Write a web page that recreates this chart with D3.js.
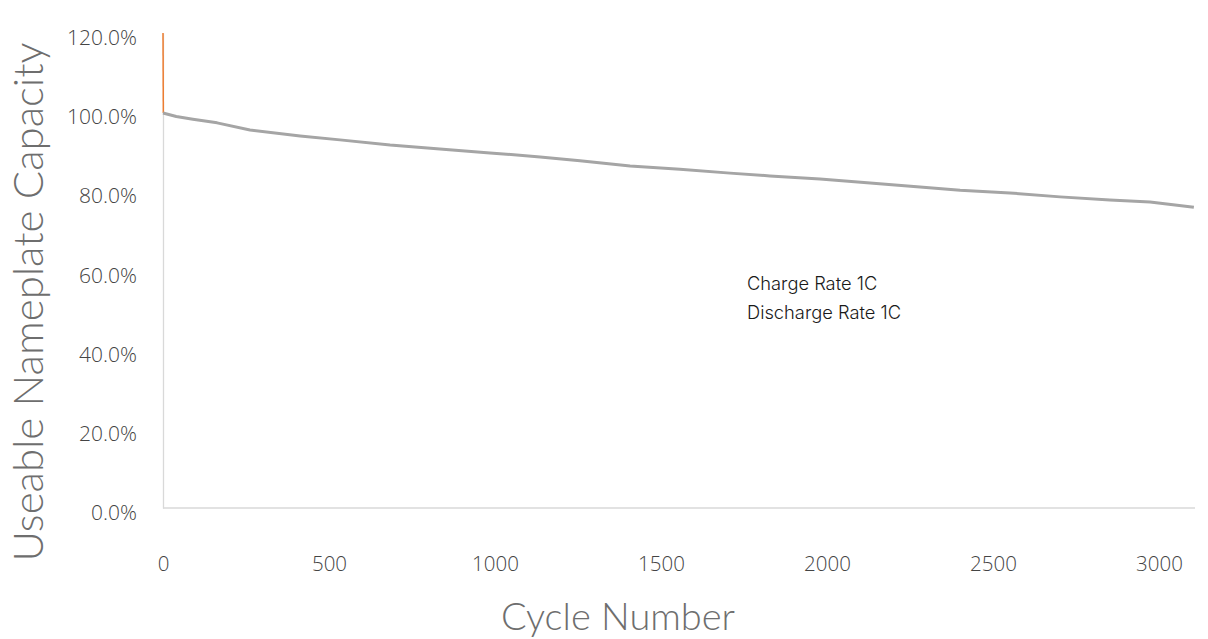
<!DOCTYPE html>
<html>
<head>
<meta charset="utf-8">
<script src="https://cdn.jsdelivr.net/npm/d3@7"></script>
<style>
  html, body { margin: 0; padding: 0; background: #fff; }
  svg { display: block; }
</style>
</head>
<body>
<svg id="chart" width="1208" height="639"></svg>
<script>
// ---- data ----
const cycles   = [0, 40, 90, 163, 262, 413, 533, 684, 834, 985, 1136, 1256, 1407, 1557, 1708, 1828, 1979, 2130, 2280, 2401, 2551, 2702, 2852, 2973, 3105];
const capacity = [99.8, 98.9, 98.2, 97.3, 95.5, 94.0, 93.0, 91.7, 90.7, 89.7, 88.7, 87.7, 86.4, 85.6, 84.6, 83.9, 83.1, 82.1, 81.1, 80.3, 79.6, 78.6, 77.8, 77.3, 76.0];
const initCycles   = [0, 1];
const initCapacity = [120.0, 99.8];
const xTicks = [0, 500, 1000, 1500, 2000, 2500, 3000];
const yTicks = [0, 20, 40, 60, 80, 100, 120];
const notes  = ["Charge Rate 1C", "Discharge Rate 1C"];

// ---- layout ----
const svg = d3.select("#chart");
const mLeft = 163, mRight = 1195, mTop = 33, mBottom = 508;

const x = d3.scaleLinear().domain([0, 3110]).range([mLeft, mLeft + 3110 * 0.332]);
const y = d3.scaleLinear().domain([0, 120]).range([mBottom, mTop]);

const tickFont = "'Open Sans', 'DejaVu Sans', sans-serif";
const titleFont = "Lato, 'Open Sans', sans-serif";

// y axis
const yAxis = svg.append("g")
  .attr("transform", `translate(${mLeft},0)`)
  .call(d3.axisLeft(y).tickValues(yTicks).tickSize(0).tickPadding(26)
        .tickFormat(d => d.toFixed(1) + "%"));
yAxis.select(".domain").attr("stroke", "#d9d9d9").attr("stroke-width", 1.3);
yAxis.selectAll("text").attr("fill", "#444").attr("dy", "0.55em")
  .style("font-family", tickFont).style("font-size", "21px").style("font-weight", 300);

// x axis
const xAxis = svg.append("g")
  .attr("transform", `translate(0,${mBottom})`)
  .call(d3.axisBottom(x).tickValues(xTicks).tickSize(0).tickPadding(48)
        .tickFormat(d3.format("d")));
xAxis.select(".domain").attr("stroke", "#d9d9d9").attr("stroke-width", 1.3)
  .attr("d", `M${mLeft},0H${mRight}`);
xAxis.selectAll("text").attr("fill", "#444")
  .style("font-family", tickFont).style("font-size", "20.5px").style("font-weight", 300);

// lines
const line = d3.line().x(d => x(d[0])).y(d => y(d[1]));
svg.append("path")
  .datum(initCycles.map((c, i) => [c, initCapacity[i]]))
  .attr("d", line).attr("fill", "none").attr("stroke", "#ed7d31").attr("stroke-width", 1.5);
svg.append("path")
  .datum(cycles.map((c, i) => [c, capacity[i]]))
  .attr("d", line).attr("fill", "none").attr("stroke", "#a5a5a5").attr("stroke-width", 3)
  .attr("stroke-linejoin", "round");

// annotation
svg.append("g").selectAll("text").data(notes).join("text")
  .attr("x", 747).attr("y", (d, i) => 290 + i * 29)
  .attr("fill", "#1a1a1a")
  .style("font-family", "Inter, Lato, sans-serif")
  .style("font-size", "18.3px").style("font-weight", 300)
  .text(d => d);

// axis titles
svg.append("text")
  .attr("transform", `translate(43,302) rotate(-90)`)
  .attr("text-anchor", "middle")
  .attr("fill", "#6e6e6e")
  .style("font-family", titleFont).style("font-weight", 300)
  .style("font-size", "42px")
  .text("Useable Nameplate Capacity");

svg.append("text")
  .attr("x", 618).attr("y", 630)
  .attr("text-anchor", "middle")
  .attr("fill", "#6e6e6e")
  .style("font-family", titleFont).style("font-weight", 300)
  .style("font-size", "38px")
  .text("Cycle Number");
</script>
</body>
</html>
